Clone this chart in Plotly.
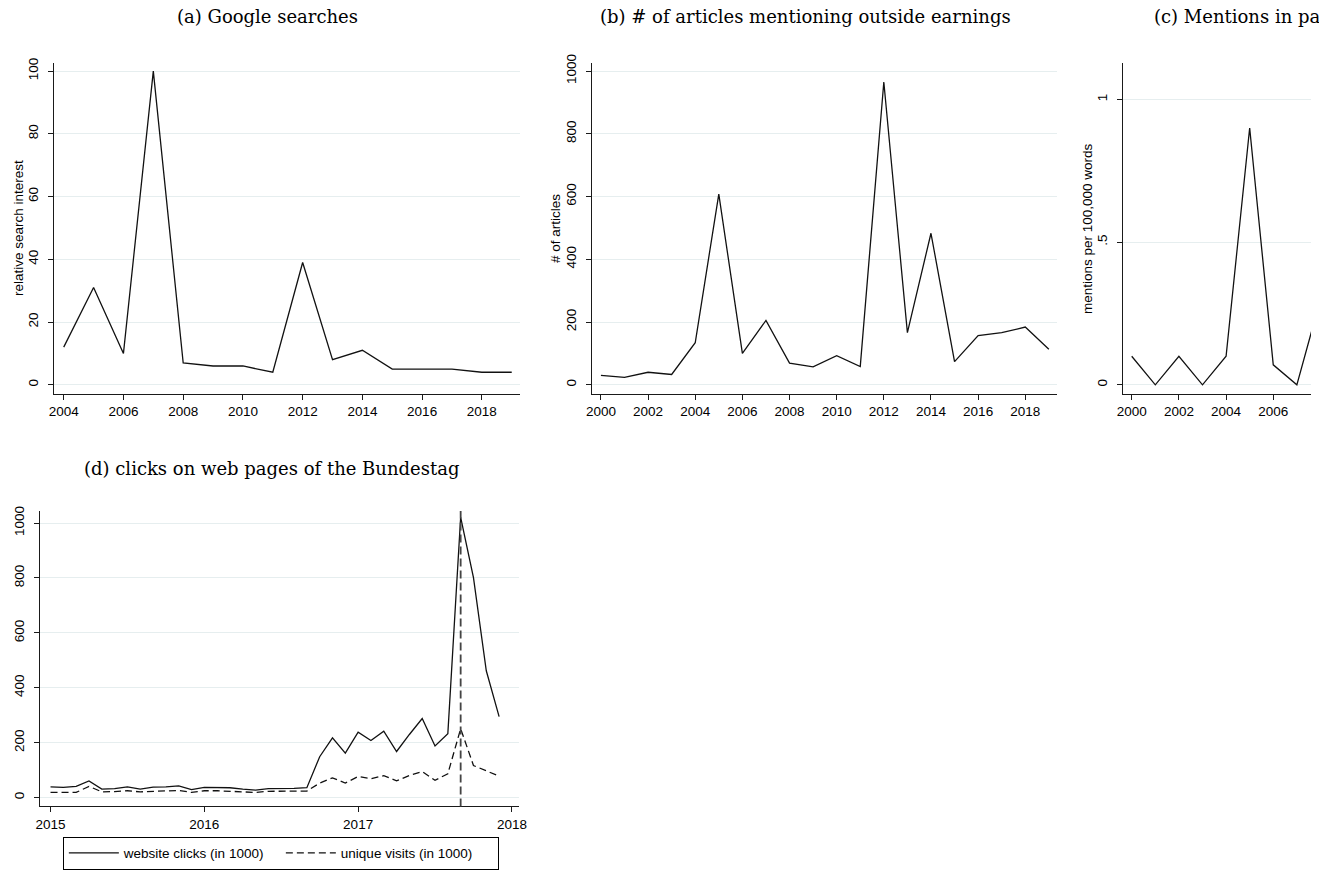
import pandas as pd
import plotly.graph_objects as go

# ---------------- data ----------------
# (a) Google searches, relative search interest
years_a = list(range(2004, 2020))
search_interest = [12, 31, 10, 100, 7, 6, 6, 4, 39, 8, 11, 5, 5, 5, 4, 4]

# (b) number of newspaper articles mentioning outside earnings
years_b = list(range(2000, 2020))
articles = [30, 24, 40, 33, 134, 608, 100, 205, 69, 57, 93, 58,
            965, 166, 483, 74, 157, 166, 184, 113]

# (c) mentions in parliamentary debates per 100,000 words
years_c = list(range(2000, 2009))
mentions = [0.1, 0.0, 0.1, 0.0, 0.1, 0.9, 0.07, 0.0, 0.3]

# (d) monthly clicks on Bundestag web pages, Jan 2015 - Dec 2017 (in 1000)
months_d = pd.period_range("2015-01", "2017-12", freq="M")
website_clicks = [39, 37, 41, 61, 31, 33, 39, 31, 38, 39, 43, 29,
                  37, 37, 36, 31, 27, 33, 33, 34, 36, 149, 218, 162,
                  238, 208, 242, 168, 230, 288, 188, 233, 1021, 801, 462, 295]
unique_visits = [19, 19, 19, 41, 21, 22, 25, 21, 23, 25, 26, 19,
                 25, 25, 23, 21, 19, 23, 23, 24, 24, 53, 72, 53,
                 77, 69, 80, 61, 81, 95, 63, 87, 251, 117, 96, 78]
election_month = pd.Period("2017-09", freq="M")

xticks_a = list(range(2004, 2019, 2))
xticks_b = list(range(2000, 2019, 2))
xticks_c = list(range(2000, 2007, 2))
xticks_d = [2015, 2016, 2017, 2018]
yticks_a = [0, 20, 40, 60, 80, 100]
yticks_b = [0, 200, 400, 600, 800, 1000]
yticks_c = [0, 0.5, 1]
yticks_c_text = ["0", ".5", "1"]
yticks_d = [0, 200, 400, 600, 800, 1000]


def decimal_year(p):
    return p.year + (p.month - 1) / 12


x_d = [decimal_year(p) for p in months_d]
x_election = decimal_year(election_month)

# ---------------- styling ----------------
W, H = 1319, 870
SANS = "Liberation Sans"
SERIF = "DejaVu Serif"
GRID = "#E6EEEF"
AXIS = "#1a1a1a"
LINE = "#111111"


def px_x(v):
    return v / W


def px_y(v):
    return 1 - v / H


def xaxis(domain, rng, ticks, anchor):
    return dict(domain=domain, range=rng, tickvals=ticks, anchor=anchor,
                showgrid=False, zeroline=False, showline=True,
                linecolor=AXIS, linewidth=1, ticks="outside", ticklen=5,
                tickcolor=AXIS, tickwidth=1,
                tickfont=dict(family=SANS, size=13.5, color="#000"))


def yaxis(domain, rng, ticks, anchor, ticktext=None):
    d = dict(domain=domain, range=rng, tickvals=ticks, anchor=anchor,
             showgrid=True, gridcolor=GRID, gridwidth=1, zeroline=False,
             showline=True, linecolor=AXIS, linewidth=1, ticks="outside",
             ticklen=5, tickcolor=AXIS, tickwidth=1, tickangle=-90,
             ticklabelstandoff=5,
             tickfont=dict(family=SANS, size=13.5, color="#000"))
    if ticktext is not None:
        d["ticktext"] = ticktext
    return d


# left edge of each panel's plotting area (px)
left_a, left_b, left_c, left_d = 48, 591.7, 1129.3, 33.3
top_row = [px_y(392.7), px_y(55)]
bottom_row = [px_y(813.3), px_y(512)]

fig = go.Figure()

fig.add_trace(go.Scatter(x=years_a, y=search_interest, mode="lines",
                         line=dict(color=LINE, width=1.3),
                         xaxis="x", yaxis="y", showlegend=False))
fig.add_trace(go.Scatter(x=years_b, y=articles, mode="lines",
                         line=dict(color=LINE, width=1.3),
                         xaxis="x2", yaxis="y2", showlegend=False))
fig.add_trace(go.Scatter(x=years_c, y=mentions, mode="lines",
                         line=dict(color=LINE, width=1.3),
                         xaxis="x3", yaxis="y3", showlegend=False))
fig.add_trace(go.Scatter(x=x_d, y=website_clicks, mode="lines",
                         name="website clicks (in 1000)",
                         line=dict(color=LINE, width=1.3),
                         xaxis="x4", yaxis="y4"))
fig.add_trace(go.Scatter(x=x_d, y=unique_visits, mode="lines",
                         name="unique visits (in 1000)",
                         line=dict(color=LINE, width=1.3, dash="7px,4px"),
                         xaxis="x4", yaxis="y4"))

# election month marker in panel (d)
fig.add_shape(type="line", xref="x4", yref="y4 domain",
              x0=x_election, x1=x_election, y0=0, y1=1,
              line=dict(color="#444", width=1.8, dash="8px,4px"))

fig.update_layout(
    width=W, height=H, autosize=False,
    margin=dict(l=0, r=0, t=0, b=0),
    paper_bgcolor="white", plot_bgcolor="white",
    xaxis=xaxis([px_x(left_a), px_x(519.3)], [2003.69, 2019.29], xticks_a, "y"),
    yaxis=yaxis(top_row, [-2.94, 102.6], yticks_a, "x"),
    xaxis2=xaxis([px_x(left_b), px_x(1061.7)], [1999.62, 2019.33], xticks_b, "y2"),
    yaxis2=yaxis(top_row, [-29.4, 1025.9], yticks_b, "x2"),
    xaxis3=xaxis([px_x(left_c), 1.0], [1999.65, 2007.6], xticks_c, "y3"),
    yaxis3=yaxis(top_row, [-0.0323, 1.128], yticks_c, "x3", yticks_c_text),
    xaxis4=xaxis([px_x(left_d), px_x(518.2)], [2014.931, 2018.048], xticks_d, "y4"),
    yaxis4=yaxis(bottom_row, [-32, 1044], yticks_d, "x4"),
    legend=dict(orientation="h", x=px_x(277), y=px_y(861),
                xanchor="center", yanchor="middle",
                bordercolor="#000", borderwidth=1, bgcolor="white",
                font=dict(family=SANS, size=13.5, color="#000"),
                itemwidth=50, entrywidth=152, tracegroupgap=0),
)

titles = [
    ("(a) Google searches", px_x(263.5), px_y(8), "center"),
    ("(b) # of articles mentioning outside earnings", px_x(807.5), px_y(8), "center"),
    ("(c) Mentions in parliamentary debates", px_x(1158), px_y(8), "left"),
    ("(d) clicks on web pages of the Bundestag", px_x(267.7), px_y(469), "center"),
]
for text, x, y, anchor in titles:
    fig.add_annotation(text=text, x=x, y=y, xref="paper", yref="paper",
                       xanchor=anchor, yanchor="middle", showarrow=False,
                       font=dict(family=SERIF, size=18, color="#000"))

ytitles = [
    ("relative search interest", px_x(left_a - 37), px_y(223.5)),
    ("# of articles", px_x(left_b - 37), px_y(224)),
    ("mentions per 100,000 words", px_x(left_c - 37), px_y(223.5)),
]
for text, x, y in ytitles:
    fig.add_annotation(text=text, x=x, y=y, xref="paper", yref="paper",
                       xanchor="center", yanchor="middle", textangle=-90,
                       showarrow=False,
                       font=dict(family=SANS, size=13.5, color="#000"))

fig.write_html("out.html")
